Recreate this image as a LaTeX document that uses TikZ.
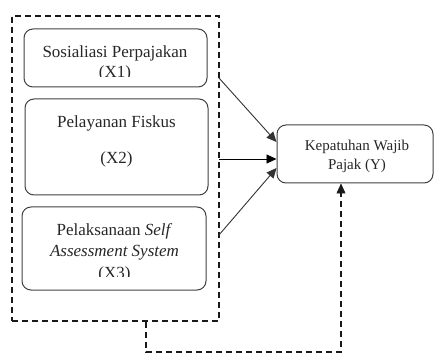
\documentclass[tikz,border=0pt]{standalone}
\usepackage{fontspec}
\setmainfont{Liberation Serif}
\usetikzlibrary{arrows.meta,calc}
\begin{document}
\begin{tikzpicture}[x=1pt,y=1pt,
  varbox/.style={draw=black!75, line width=1pt, rounded corners=9pt, inner sep=0pt},
  grpbox/.style={draw=black!90, line width=1.8pt, dash pattern=on 6pt off 4pt, inner sep=0pt},
  lefttxt/.style={align=center, inner sep=0pt, font=\fontsize{17}{20}\selectfont, text=black!85},
  righttxt/.style={align=center, inner sep=0pt, font=\fontsize{15}{19}\selectfont, text=black!85},
  arr/.style={draw=black!80, line width=0.9pt, -{Triangle[length=10pt,width=9pt]}},
  dasharr/.style={draw=black!90, line width=1.8pt, dash pattern=on 6pt off 4pt, -{Triangle[length=10pt,width=9pt,line width=0.5pt]}}
]
\useasboundingbox (0,0) rectangle (434,354);
% group box
\node[grpbox, minimum width=207pt, minimum height=305pt] (grp) at (115.5,185.5) {};
% variable boxes
\node[varbox, minimum width=183pt, minimum height=58pt] (x1) at (115.5,296) {};
\node[varbox, minimum width=183pt, minimum height=96pt] (x2) at (116.5,207) {};
\node[varbox, minimum width=184pt, minimum height=83pt] (x3) at (114,105.5) {};
\node[varbox, minimum width=156pt, minimum height=58pt] (y) at (355,200) {};
% texts (clipped like the original text boxes)
\begin{scope}
  \clip (24,277) rectangle (207,325);
  \node[lefttxt] (t1) at (115,291) {Sosialiasi Perpajakan\\(X1)};
\end{scope}
\node[lefttxt] (t2) at (116.5,213) {Pelayanan Fiskus\\[16pt](X2)};
\begin{scope}
  \clip (22,78) rectangle (206,147);
  \node[lefttxt, font=\fontsize{17}{21.5}\selectfont] (t3) at (114.5,101.5) {Pelaksanaan \textit{Self}\\\textit{Assessment System}\\(X3)};
\end{scope}
\node[righttxt] (ty) at (357,198) {Kepatuhan Wajib\\Pajak (Y)};
% connectors
\coordinate (s1) at (219,276);
\coordinate (s2) at (219,195);
\coordinate (s3) at (219,119);
\draw[arr] (s1) -- ([yshift=12pt]y.west);
\draw[arr, draw=black] (s2) -- ([yshift=-5pt]y.west);
\draw[arr] (s3) -- ([yshift=-14pt]y.west);
\draw[dasharr] ([xshift=30.5pt]grp.south) |- (341,2) -- ([xshift=-14pt]y.south);
\end{tikzpicture}
\end{document}
